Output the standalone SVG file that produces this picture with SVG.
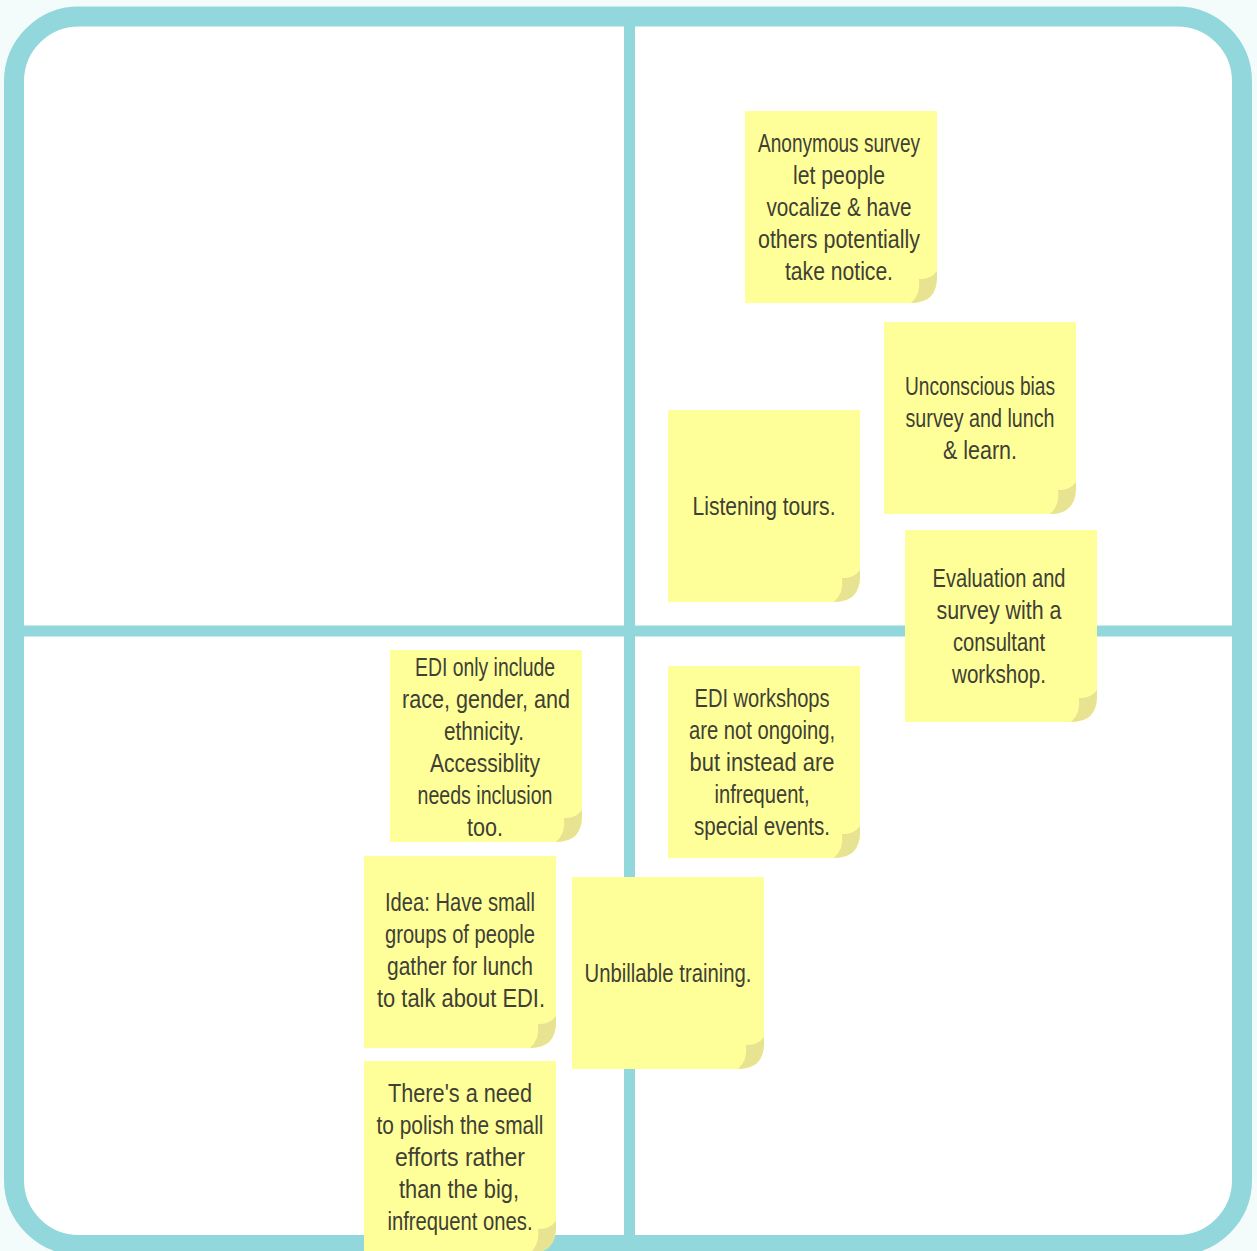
<svg xmlns="http://www.w3.org/2000/svg" xmlns:xlink="http://www.w3.org/1999/xlink" width="1257" height="1251" viewBox="0 0 1257 1251">
<style>
.note-body{fill:#ffff99;}
.note-curl{fill:#e7e391;}
.note-text{font-family:"Liberation Sans",Arial,sans-serif;font-size:26px;fill:#404035;text-anchor:middle;}
.frame{fill:#ffffff;stroke:#92d7dc;stroke-width:20;}
.divider{stroke:#92d7dc;stroke-width:11;fill:none;}
</style>
<defs>
<path id="body" d="M0,0 H192 V166 Q192,192 166,192 H0 Z"/>
<path id="curl" d="M192,160 Q185,169 174,168 Q176,183 166,192 Q192,192 192,166 Z"/>
</defs>
<rect x="0" y="0" width="1257" height="1251" fill="#f3fbfb"/>
<g id="board">
<rect class="frame" x="14" y="16.5" width="1228" height="1228.5" rx="65" ry="65"/>
<line class="divider" x1="629.5" y1="26" x2="629.5" y2="1236"/>
<line class="divider" x1="24" y1="631" x2="1232" y2="631"/>
</g>
<g id="connectors"/>
<g id="note-anonymous">
<use href="#body" class="note-body" x="745" y="111"/>
<use href="#curl" class="note-curl" x="745" y="111"/>
<text class="note-text" x="839" y="152" textLength="162" lengthAdjust="spacingAndGlyphs">Anonymous survey</text>
<text class="note-text" x="839" y="184" textLength="92" lengthAdjust="spacingAndGlyphs">let people</text>
<text class="note-text" x="839" y="216" textLength="145" lengthAdjust="spacingAndGlyphs">vocalize &amp; have</text>
<text class="note-text" x="839" y="248" textLength="162" lengthAdjust="spacingAndGlyphs">others potentially</text>
<text class="note-text" x="839" y="280" textLength="108" lengthAdjust="spacingAndGlyphs">take notice.</text>
</g>
<g id="note-unconscious">
<use href="#body" class="note-body" x="884" y="322"/>
<use href="#curl" class="note-curl" x="884" y="322"/>
<text class="note-text" x="980" y="395" textLength="150" lengthAdjust="spacingAndGlyphs">Unconscious bias</text>
<text class="note-text" x="980" y="427" textLength="149" lengthAdjust="spacingAndGlyphs">survey and lunch</text>
<text class="note-text" x="980" y="459" textLength="74" lengthAdjust="spacingAndGlyphs">&amp; learn.</text>
</g>
<g id="note-listening">
<use href="#body" class="note-body" x="668" y="410"/>
<use href="#curl" class="note-curl" x="668" y="410"/>
<text class="note-text" x="764" y="515" textLength="143" lengthAdjust="spacingAndGlyphs">Listening tours.</text>
</g>
<g id="note-evaluation">
<use href="#body" class="note-body" x="905" y="530"/>
<use href="#curl" class="note-curl" x="905" y="530"/>
<text class="note-text" x="999" y="587" textLength="133" lengthAdjust="spacingAndGlyphs">Evaluation and</text>
<text class="note-text" x="999" y="619" textLength="125" lengthAdjust="spacingAndGlyphs">survey with a</text>
<text class="note-text" x="999" y="651" textLength="92" lengthAdjust="spacingAndGlyphs">consultant</text>
<text class="note-text" x="999" y="683" textLength="94" lengthAdjust="spacingAndGlyphs">workshop.</text>
</g>
<g id="note-edi-only">
<use href="#body" class="note-body" x="390" y="650"/>
<use href="#curl" class="note-curl" x="390" y="650"/>
<text class="note-text" x="485" y="676" textLength="140" lengthAdjust="spacingAndGlyphs">EDI only include</text>
<text class="note-text" x="486" y="708" textLength="168" lengthAdjust="spacingAndGlyphs">race, gender, and</text>
<text class="note-text" x="484" y="740" textLength="80" lengthAdjust="spacingAndGlyphs">ethnicity.</text>
<text class="note-text" x="485" y="772" textLength="110" lengthAdjust="spacingAndGlyphs">Accessiblity</text>
<text class="note-text" x="485" y="804" textLength="135" lengthAdjust="spacingAndGlyphs">needs inclusion</text>
<text class="note-text" x="485" y="836" textLength="36" lengthAdjust="spacingAndGlyphs">too.</text>
</g>
<g id="note-edi-workshops">
<use href="#body" class="note-body" x="668" y="666"/>
<use href="#curl" class="note-curl" x="668" y="666"/>
<text class="note-text" x="762" y="707" textLength="135" lengthAdjust="spacingAndGlyphs">EDI workshops</text>
<text class="note-text" x="762" y="739" textLength="146" lengthAdjust="spacingAndGlyphs">are not ongoing,</text>
<text class="note-text" x="762" y="771" textLength="145" lengthAdjust="spacingAndGlyphs">but instead are</text>
<text class="note-text" x="762" y="803" textLength="95" lengthAdjust="spacingAndGlyphs">infrequent,</text>
<text class="note-text" x="762" y="835" textLength="136" lengthAdjust="spacingAndGlyphs">special events.</text>
</g>
<g id="note-idea">
<use href="#body" class="note-body" x="364" y="856"/>
<use href="#curl" class="note-curl" x="364" y="856"/>
<text class="note-text" x="460" y="911" textLength="150" lengthAdjust="spacingAndGlyphs">Idea: Have small</text>
<text class="note-text" x="460" y="943" textLength="150" lengthAdjust="spacingAndGlyphs">groups of people</text>
<text class="note-text" x="460" y="975" textLength="146" lengthAdjust="spacingAndGlyphs">gather for lunch</text>
<text class="note-text" x="461" y="1007" textLength="168" lengthAdjust="spacingAndGlyphs">to talk about EDI.</text>
</g>
<g id="note-unbillable">
<use href="#body" class="note-body" x="572" y="877"/>
<use href="#curl" class="note-curl" x="572" y="877"/>
<text class="note-text" x="668" y="982" textLength="167" lengthAdjust="spacingAndGlyphs">Unbillable training.</text>
</g>
<g id="note-polish">
<use href="#body" class="note-body" x="364" y="1061"/>
<use href="#curl" class="note-curl" x="364" y="1061"/>
<text class="note-text" x="460" y="1102" textLength="144" lengthAdjust="spacingAndGlyphs">There's a need</text>
<text class="note-text" x="460" y="1134" textLength="167" lengthAdjust="spacingAndGlyphs">to polish the small</text>
<text class="note-text" x="460" y="1166" textLength="130" lengthAdjust="spacingAndGlyphs">efforts rather</text>
<text class="note-text" x="459" y="1198" textLength="120" lengthAdjust="spacingAndGlyphs">than the big,</text>
<text class="note-text" x="460" y="1230" textLength="145" lengthAdjust="spacingAndGlyphs">infrequent ones.</text>
</g>
</svg>
